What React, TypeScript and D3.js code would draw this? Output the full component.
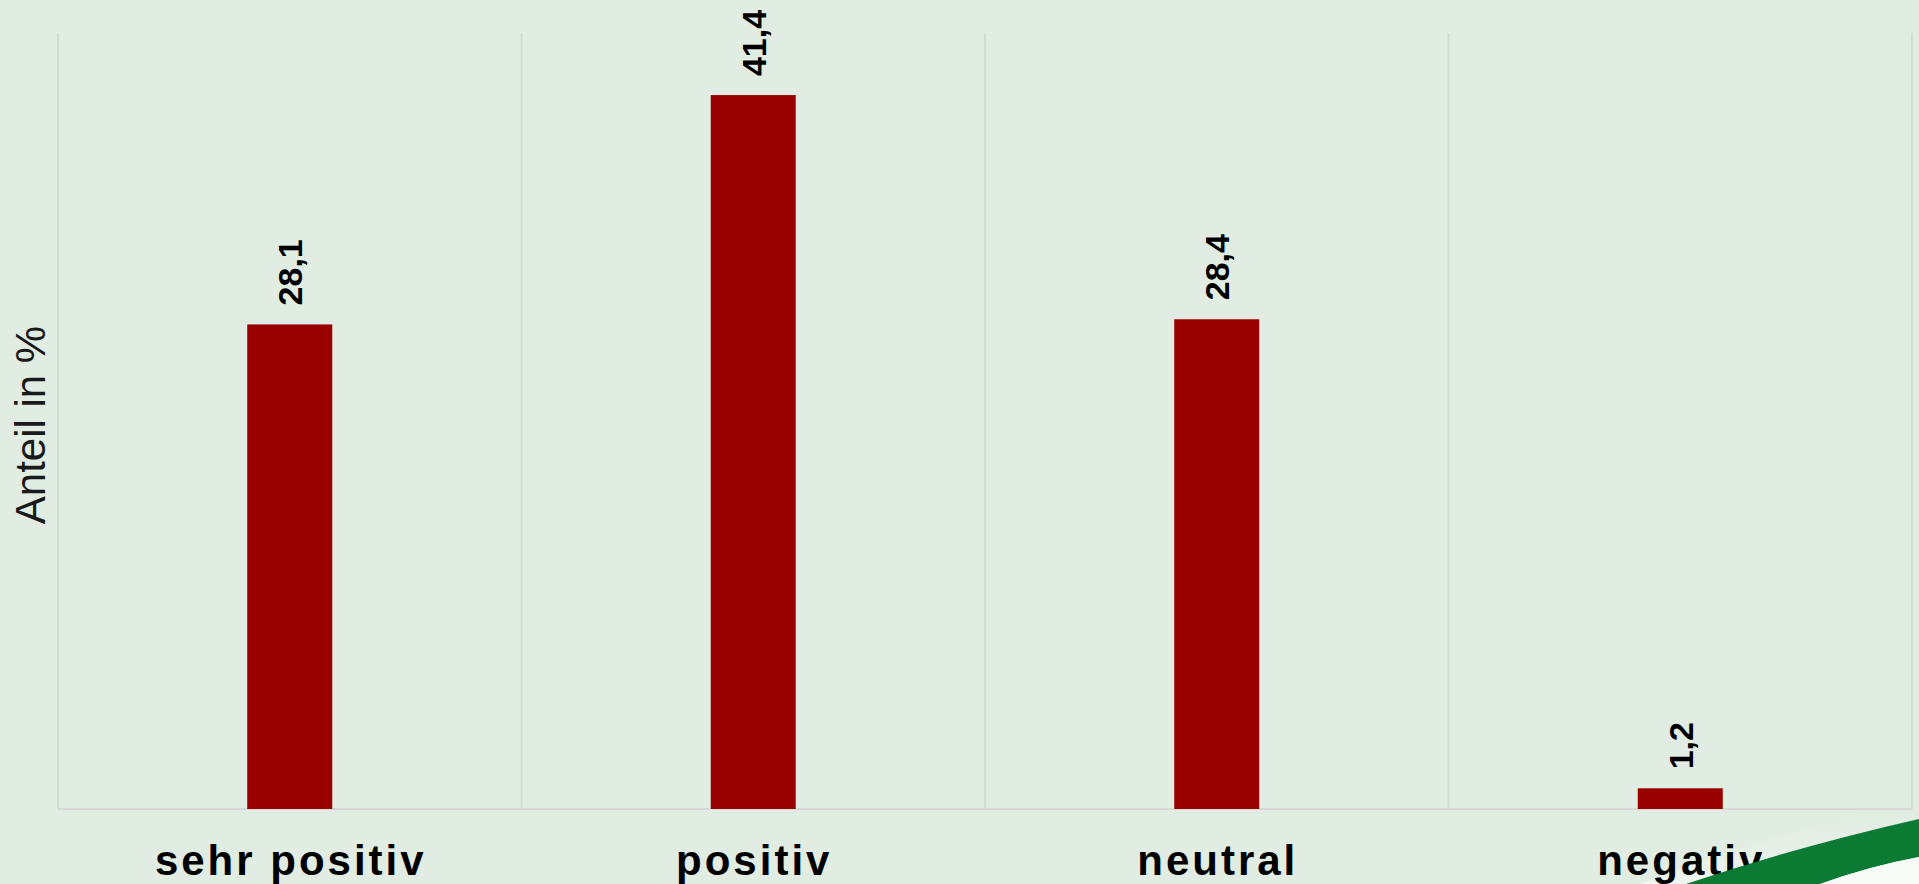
import React from "react";
import * as d3 from "d3";

const categories = ["sehr positiv", "positiv", "neutral", "negativ"];
const values = [28.1, 41.4, 28.4, 1.2];
const valueLabels = ["28,1", "41,4", "28,4", "1,2"];
const yAxisTitle = "Anteil in %";
const yDomain = [0, 45];

const W = 1919;
const H = 884;
const left = 58;
const right = 1912;
const top = 33;
const bottom = 809;

export default function App() {
  const x = d3.scaleBand<string>().domain(categories).range([left, right]).padding(0);
  const y = d3.scaleLinear().domain(yDomain).range([bottom, top]);
  const bw = x.bandwidth() * 0.1834;
  const bounds = [...categories.map((c) => x(c) as number), right];
  const font = "'Liberation Sans', Arial, Helvetica, sans-serif";

  const swoosh = d3.path();
  swoosh.moveTo(1686, H);
  swoosh.quadraticCurveTo(1800, 846, W, 819);
  swoosh.lineTo(W, 857);
  swoosh.quadraticCurveTo(1870, 866, 1820, H);
  swoosh.closePath();

  const whiteArea = d3.path();
  whiteArea.moveTo(1820, H);
  whiteArea.quadraticCurveTo(1870, 866, W, 857);
  whiteArea.lineTo(W, H);
  whiteArea.closePath();

  const glow = d3.path();
  glow.moveTo(1640, H);
  glow.quadraticCurveTo(1790, 826, W, 800);
  glow.lineTo(W, 819);
  glow.quadraticCurveTo(1800, 846, 1686, H);
  glow.closePath();

  return (
    <div style={{ position: "absolute", left: 0, top: 0 }}>
      <svg width={W} height={H} style={{ display: "block" }}>
        <defs>
          <linearGradient id="glowGrad" x1="0" y1="1" x2="0" y2="0">
            <stop offset="0" stopColor="#f4f8f4" stopOpacity="0.8" />
            <stop offset="1" stopColor="#e1ece2" stopOpacity="0" />
          </linearGradient>
        </defs>
        <rect x={0} y={0} width={W} height={H} fill="#e1ece2" />
        <path d={glow.toString()} fill="url(#glowGrad)" />
        {bounds.map((b, i) => (
          <line key={"g" + i} x1={b} x2={b} y1={top} y2={bottom} stroke="#d6d9d5" strokeWidth={2} />
        ))}
        <line x1={left} x2={right} y1={bottom} y2={bottom} stroke="#d6d9d5" strokeWidth={2} />
        {categories.map((c, i) => {
          const cx = (x(c) as number) + x.bandwidth() / 2;
          return (
            <g key={c}>
              <rect x={cx - bw / 2} y={y(values[i])} width={bw} height={y(0) - y(values[i])} fill="#990000" />
              <text
                transform={`translate(${cx},${y(values[i]) - 19}) rotate(-90)`}
                textAnchor="start"
                dy="0.36em"
                fontFamily={font}
                fontWeight="bold"
                fontSize={34}
                fill="#000"
              >
                {valueLabels[i]}
              </text>
              <text
                x={cx + 1}
                y={875}
                textAnchor="middle"
                fontFamily={font}
                fontWeight="bold"
                fontSize={42}
                letterSpacing={3}
                fill="#000"
              >
                {c}
              </text>
            </g>
          );
        })}
        <text
          transform={`translate(45,425) rotate(-90)`}
          textAnchor="middle"
          fontFamily={font}
          fontSize={42}
          fill="#1a1a1a"
        >
          {yAxisTitle}
        </text>
        <path d={swoosh.toString()} fill="#0b7a33" />
        <path d={whiteArea.toString()} fill="#f7faf7" />
      </svg>
    </div>
  );
}
